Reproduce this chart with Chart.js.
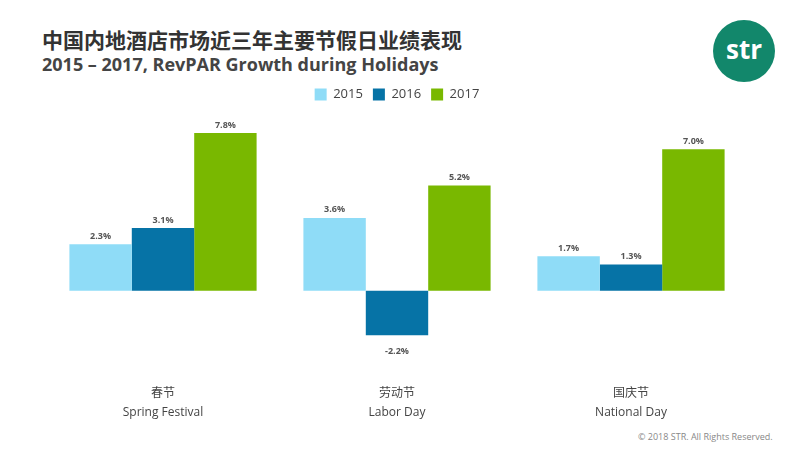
<!DOCTYPE html>
<html>
<head>
<meta charset="utf-8">
<script src="https://cdn.jsdelivr.net/npm/chart.js@4"></script>
<style>
  body { margin: 0; width: 800px; height: 450px; background: #fff; position: relative; overflow: hidden; font-family: "Open Sans", "Noto Sans CJK SC", sans-serif; }
  #title { position: absolute; left: 42px; top: 24px; font: bold 21px "Noto Sans CJK SC"; color: #333; }
  #subtitle { position: absolute; left: 42px; top: 52px; font: bold 18px "Open Sans"; color: #444; }
  #logo { position: absolute; left: 713px; top: 20px; width: 62px; height: 62px; border-radius: 50%; background: #12876b; color: #fff; font: bold 26px "Open Sans"; text-align: center; line-height: 58px; }
  #copy { position: absolute; left: 638px; top: 430px; font: 9px "Open Sans"; color: #888; }
  #wrap { position: absolute; left: 0; top: 78px; width: 800px; height: 350px; }
</style>
</head>
<body>
<div id="title">中国内地酒店市场近三年主要节假日业绩表现</div>
<div id="subtitle">2015 – 2017, RevPAR Growth during Holidays</div>
<div id="logo">str</div>
<div id="copy">© 2018 STR. All Rights Reserved.</div>
<div id="wrap"><canvas id="chart"></canvas></div>
<script>
const categories = [['春节', 'Spring Festival'], ['劳动节', 'Labor Day'], ['国庆节', 'National Day']];
const years = ['2015', '2016', '2017'];
const values2015 = [2.3, 3.6, 1.7];
const values2016 = [3.1, -2.2, 1.3];
const values2017 = [7.8, 5.2, 7.0];
const colors = ['#8fdcf7', '#0673a6', '#79b800'];

// Draws the value label above positive bars and below negative ones
const valueLabels = {
    id: 'valueLabels',
    afterDatasetsDraw(chart) {
        const ctx = chart.ctx;
        ctx.save();
        ctx.font = 'bold 9px "Open Sans"';
        ctx.fillStyle = '#555';
        ctx.textAlign = 'center';
        chart.data.datasets.forEach((ds, i) => {
            chart.getDatasetMeta(i).data.forEach((bar, j) => {
                const v = ds.data[j];
                const y = v >= 0 ? bar.y - 8 : bar.y + 16;
                ctx.fillText(v.toFixed(1) + '%', bar.x, y);
            });
        });
        ctx.restore();
    }
};

new Chart(document.getElementById('chart'), {
    type: 'bar',
    data: {
        labels: categories,
        datasets: [values2015, values2016, values2017].map((d, i) => ({
            label: years[i],
            data: d,
            backgroundColor: colors[i],
            barPercentage: 1.0,
            categoryPercentage: 0.8
        }))
    },
    options: {
        responsive: true,
        maintainAspectRatio: false,
        animation: false,
        layout: { padding: { left: 46, right: 52, top: 0, bottom: 0 } },
        plugins: {
            legend: {
                labels: { boxWidth: 12, boxHeight: 12, color: '#444', font: { size: 13, family: 'Open Sans' }, padding: 10 }
            },
            tooltip: { enabled: false }
        },
        scales: {
            x: {
                grid: { display: false, drawTicks: false },
                border: { display: false },
                ticks: { color: '#444', font: { size: 12, family: '"Open Sans", "Noto Sans CJK SC"', lineHeight: 1.6 }, padding: 6 }
            },
            y: {
                display: false,
                min: -4.3,
                max: 8
            }
        }
    },
    plugins: [valueLabels, {
        id: 'gap',
        beforeInit(chart) {
            const fit = chart.legend.fit;
            chart.legend.fit = function () { fit.call(this); this.height += 18; };
        }
    }]
});
</script>
</body>
</html>
